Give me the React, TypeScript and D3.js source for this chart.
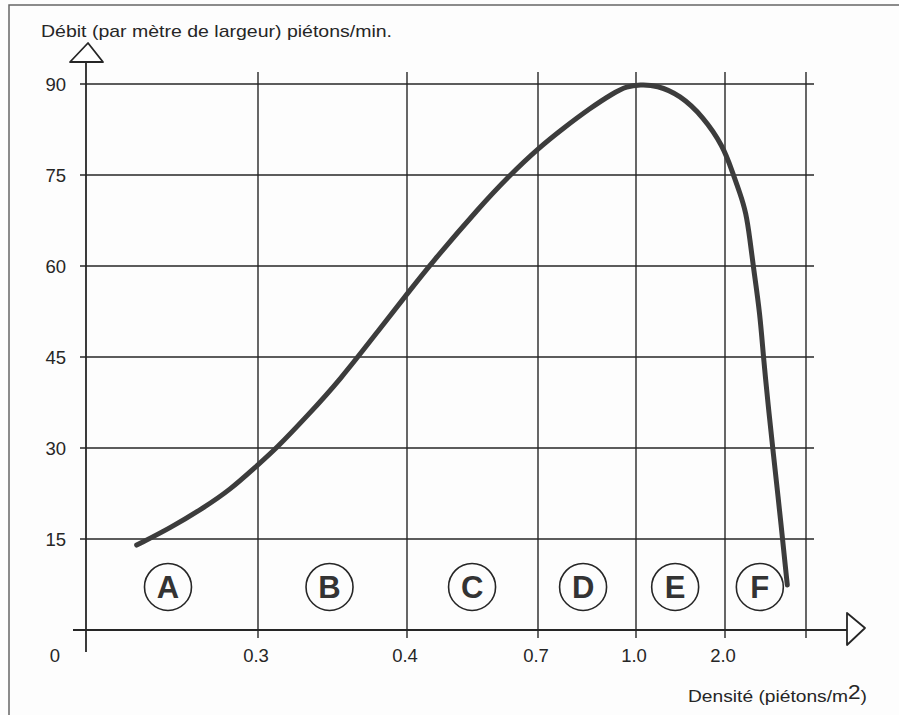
import { useEffect, useRef } from 'react';
import * as d3 from 'd3';

// density (piétons/m2) and flow (piétons/min per metre)
const density = [0.0884, 0.1465, 0.2046, 0.2512, 0.2948, 0.3126, 0.3327, 0.355, 0.3819, 0.4069, 0.4527, 0.5672, 0.6359, 0.7009, 0.7774, 0.8592, 0.9305, 0.9715, 1.045, 1.233, 1.494, 1.756, 1.981, 2.083, 2.185, 2.259, 2.309, 2.349, 2.432, 2.473, 2.535, 2.589, 2.70, 2.769];
const flow = [14.0, 16.8, 20.1, 23.1, 26.8, 30.0, 35.2, 41.2, 49.7, 56.0, 60.2, 69.8, 75.0, 79.4, 82.7, 86.0, 88.5, 89.6, 89.9, 89.8, 88.2, 84.6, 79.7, 75.8, 72.0, 68.9, 64.3, 59.9, 52.2, 45.1, 36.8, 30.0, 16.5, 7.4];

// x grid is not uniform: each labelled density gets its own column
const xGrid = [0, 0.3, 0.4, 0.7, 1.0, 2.0, 3.0];
const xTickValues = [0.3, 0.4, 0.7, 1.0, 2.0];
const xTickLabels = ['0.3', '0.4', '0.7', '1.0', '2.0'];
const yTickValues = [15, 30, 45, 60, 75, 90];

// service levels
const zoneLabels = ['A', 'B', 'C', 'D', 'E', 'F'];
const zoneDensity = [0.143, 0.348, 0.549, 0.838, 1.44, 2.43];
const zoneFlow = 7.1;

const App = () => {
  const svgRef = useRef<SVGSVGElement | null>(null);

  useEffect(() => {
    const W = 899;
    const H = 715;
    const svg = d3.select(svgRef.current);
    svg.selectAll('*').remove();

    const font = '"Liberation Sans", Arial, sans-serif';
    const ink = '#262626';

    const xScale = d3.scaleLinear()
      .domain(xGrid)
      .range([86, 258, 407, 538, 636, 725, 806]);
    const yScale = d3.scaleLinear()
      .domain([0, 90])
      .range([630, 84]);

    svg.append('rect')
      .attr('width', W).attr('height', H)
      .attr('fill', '#fdfdfd');

    // frame
    svg.append('rect')
      .attr('x', 9).attr('y', 5)
      .attr('width', W + 20).attr('height', H + 20)
      .attr('fill', 'none')
      .attr('stroke', '#666')
      .attr('stroke-width', 1.5);

    // horizontal grid
    svg.append('g')
      .selectAll('line')
      .data(yTickValues)
      .join('line')
      .attr('x1', 80)
      .attr('x2', 814)
      .attr('y1', d => yScale(d))
      .attr('y2', d => yScale(d))
      .attr('stroke', ink)
      .attr('stroke-width', 1.4);

    // vertical grid
    svg.append('g')
      .selectAll('line')
      .data(xGrid.slice(1))
      .join('line')
      .attr('x1', d => xScale(d))
      .attr('x2', d => xScale(d))
      .attr('y1', 72)
      .attr('y2', 638)
      .attr('stroke', ink)
      .attr('stroke-width', 1.4);

    // y axis with hollow arrow
    const x0 = xScale(0);
    svg.append('line')
      .attr('x1', x0).attr('x2', x0)
      .attr('y1', 62).attr('y2', 652)
      .attr('stroke', ink)
      .attr('stroke-width', 1.8);
    svg.append('path')
      .attr('d', `M${x0 - 16},62 L${x0 + 2},43 L${x0 + 17},62 Z`)
      .attr('fill', '#fff')
      .attr('stroke', ink)
      .attr('stroke-width', 1.8)
      .attr('stroke-linejoin', 'round');

    // x axis with hollow arrow
    const y0 = yScale(0);
    svg.append('line')
      .attr('x1', 73).attr('x2', 847)
      .attr('y1', y0).attr('y2', y0)
      .attr('stroke', ink)
      .attr('stroke-width', 1.8);
    svg.append('path')
      .attr('d', `M847,${y0 - 17} L865,${y0 - 2} L847,${y0 + 15} Z`)
      .attr('fill', '#fff')
      .attr('stroke', ink)
      .attr('stroke-width', 1.8)
      .attr('stroke-linejoin', 'round');

    // y tick labels
    svg.append('g')
      .selectAll('text')
      .data(yTickValues)
      .join('text')
      .attr('x', 66)
      .attr('y', d => yScale(d) + 7)
      .attr('text-anchor', 'end')
      .attr('font-family', font)
      .attr('font-size', 18.5)
      .attr('fill', ink)
      .text(d => d);

    // x tick labels
    svg.append('g')
      .selectAll('text')
      .data(xTickValues)
      .join('text')
      .attr('x', d => xScale(d) - 2)
      .attr('y', 662)
      .attr('text-anchor', 'middle')
      .attr('font-family', font)
      .attr('font-size', 18.5)
      .attr('fill', ink)
      .text((d, i) => xTickLabels[i]);

    // origin
    svg.append('text')
      .attr('x', 55).attr('y', 662)
      .attr('text-anchor', 'middle')
      .attr('font-family', font)
      .attr('font-size', 18.5)
      .attr('fill', ink)
      .text('0');

    // curve (b-spline smooths out the reading noise)
    const points = density.map((d, i) => [d, flow[i]] as [number, number]);
    const line = d3.line<[number, number]>()
      .x(d => xScale(d[0]))
      .y(d => yScale(d[1]))
      .curve(d3.curveBasis);
    svg.append('path')
      .datum(points)
      .attr('d', line)
      .attr('fill', 'none')
      .attr('stroke', '#3c3c3c')
      .attr('stroke-width', 5)
      .attr('stroke-linecap', 'round')
      .attr('stroke-linejoin', 'round');

    // circled level letters
    const zones = svg.append('g')
      .selectAll('g')
      .data(zoneLabels)
      .join('g')
      .attr('transform', (d, i) => `translate(${xScale(zoneDensity[i])},${yScale(zoneFlow)})`);
    zones.append('circle')
      .attr('r', 23.5)
      .attr('fill', 'none')
      .attr('stroke', ink)
      .attr('stroke-width', 1.6);
    zones.append('text')
      .attr('y', 11)
      .attr('text-anchor', 'middle')
      .attr('font-family', font)
      .attr('font-weight', 'bold')
      .attr('font-size', 31)
      .attr('fill', '#333')
      .text(d => d);

    // titles
    svg.append('text')
      .attr('x', 41).attr('y', 37)
      .attr('font-family', font)
      .attr('font-size', 17)
      .attr('textLength', 351)
      .attr('lengthAdjust', 'spacingAndGlyphs')
      .attr('fill', ink)
      .text('Débit (par mètre de largeur) piétons/min.');

    const xTitle = svg.append('text')
      .attr('x', 688).attr('y', 702)
      .attr('font-family', font)
      .attr('font-size', 17)
      .attr('textLength', 179)
      .attr('lengthAdjust', 'spacingAndGlyphs')
      .attr('fill', ink);
    xTitle.append('tspan').text('Densité (piétons/m');
    xTitle.append('tspan').attr('font-size', 20).attr('dy', -3).text('2');
    xTitle.append('tspan').attr('dy', 3).text(')');
  }, []);

  return (
    <svg
      ref={svgRef}
      width={899}
      height={715}
      style={{ position: 'absolute', left: 0, top: 0, display: 'block' }}
    />
  );
};

export default App;
